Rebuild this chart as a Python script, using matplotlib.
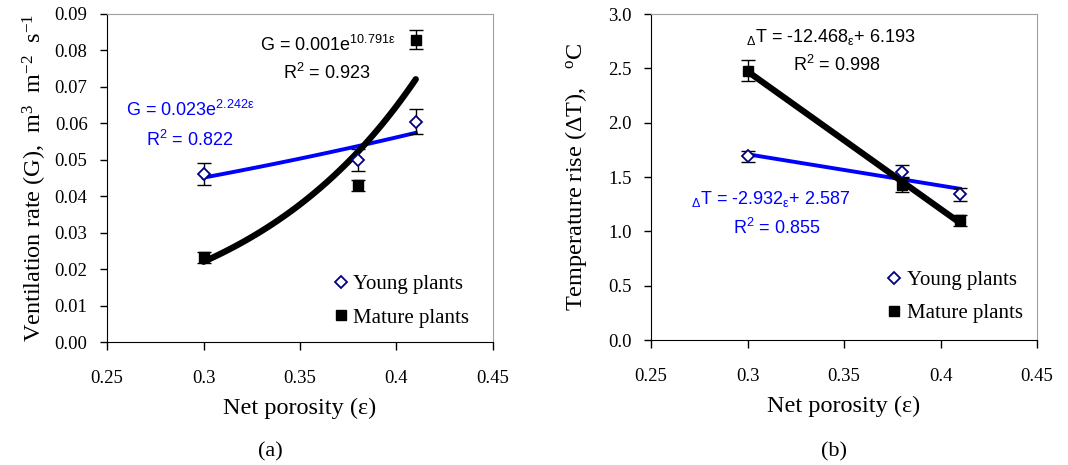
import numpy as np
import matplotlib
matplotlib.use('Agg')
import matplotlib.pyplot as plt

# data
porosity = [0.30, 0.38, 0.41]

g_young = [0.0460, 0.0500, 0.0605]
g_young_err = [0.0030, 0.0030, 0.0035]
g_mature = [0.0232, 0.0430, 0.0830]
g_mature_err = [0.0015, 0.0015, 0.0025]

dt_young = [1.69, 1.55, 1.34]
dt_young_err = [0.05, 0.06, 0.06]
dt_mature = [2.48, 1.43, 1.10]
dt_mature_err = [0.10, 0.07, 0.05]

x_ticks = [0.25, 0.3, 0.35, 0.4, 0.45]
x_ticklabels = ['0.25', '0.3', '0.35', '0.4', '0.45']
g_ticks = np.arange(0, 0.0901, 0.01)
dt_ticks = np.arange(0, 3.01, 0.5)

serif = 'Liberation Serif'
sans = 'Liberation Sans'
blue = '#0000ff'
navy = '#000080'

fig = plt.figure(figsize=(10.68, 4.65), dpi=100)
ax1 = fig.add_axes([0.1002, 0.2645, 0.3614, 0.7054])
ax2 = fig.add_axes([0.6096, 0.2688, 0.3614, 0.7010])


def style_axes(ax):
    ax.spines['top'].set_color('#a0a0a0')
    ax.spines['right'].set_color('#a0a0a0')
    ax.tick_params(direction='out', length=5, width=1, labelsize=13.5)
    ax.tick_params(axis='x', pad=14, length=6)
    ax.tick_params(axis='y', pad=9)
    ax.tick_params(top=False, right=False)
    for lab in ax.get_xticklabels() + ax.get_yticklabels():
        lab.set_fontfamily(serif)


def draw_points(ax, y_young, e_young, y_mature, e_mature):
    ax.errorbar(porosity, y_young, yerr=e_young, fmt='none', ecolor='black',
                elinewidth=1, capsize=5, capthick=1, zorder=3)
    ax.errorbar(porosity, y_mature, yerr=e_mature, fmt='none', ecolor='black',
                elinewidth=1, capsize=5, capthick=1, zorder=3)
    h1, = ax.plot(porosity, y_young, 'D', ms=6.5, mfc='white', mec=navy, mew=1.3,
                  ls='none', zorder=5, label='Young plants')
    h2, = ax.plot(porosity, y_mature, 's', ms=7, mfc='black', mec='black',
                  ls='none', zorder=4, label='Mature plants')
    return h1, h2


# ---- (a) ventilation rate, exponential trendlines ----
xs = np.linspace(min(porosity), max(porosity), 60)
by, ay = np.polyfit(porosity, np.log(g_young), 1)
bm, am = np.polyfit(porosity, np.log(g_mature), 1)
ax1.plot(xs, np.exp(ay + by * xs), color=blue, lw=2.8, zorder=2)
ax1.plot(xs, np.exp(am + bm * xs), color='black', lw=4.5, zorder=2,
         solid_capstyle='round')
h1, h2 = draw_points(ax1, g_young, g_young_err, g_mature, g_mature_err)

ax1.set_xlim(0.25, 0.45)
ax1.set_ylim(0, 0.09)
ax1.set_xticks(x_ticks)
ax1.set_xticklabels(x_ticklabels)
ax1.set_yticks(g_ticks)
ax1.set_yticklabels(['%.2f' % v for v in g_ticks])
style_axes(ax1)
ax1.set_xlabel('Net porosity (ε)', fontfamily=serif, fontsize=17.5, labelpad=8)
ax1.set_ylabel(r'Ventilation rate (G),  m$\mathregular{^{3}}$  m$\mathregular{^{-2}}$  s$\mathregular{^{-1}}$',
               fontfamily=serif, fontsize=17.5, labelpad=4)
ax1.legend(handles=[h1, h2], loc='lower right', bbox_to_anchor=(0.965, 0.012),
           frameon=False, prop={'family': serif, 'size': 15}, handlelength=0.8,
           handletextpad=0.2, labelspacing=0.68, borderpad=0)

ax1.text(0.396, 0.905, r'G = 0.001e$\mathregular{^{10.791ε}}$', transform=ax1.transAxes,
         fontfamily=sans, fontsize=13, ha='left', va='center')
ax1.text(0.57, 0.82, r'R$\mathregular{^{2}}$ = 0.923', transform=ax1.transAxes,
         fontfamily=sans, fontsize=13, ha='center', va='center')
ax1.text(0.049, 0.707, r'G = 0.023e$\mathregular{^{2.242ε}}$', transform=ax1.transAxes,
         fontfamily=sans, fontsize=13, ha='left', va='center', color=blue)
ax1.text(0.215, 0.616, r'R$\mathregular{^{2}}$ = 0.822', transform=ax1.transAxes,
         fontfamily=sans, fontsize=13, ha='center', va='center', color=blue)

# ---- (b) temperature rise, linear trendlines ----
ky, cy = np.polyfit(porosity, dt_young, 1)
km, cm = np.polyfit(porosity, dt_mature, 1)
xl = np.array([min(porosity), max(porosity)])
ax2.plot(xl, cy + ky * xl, color=blue, lw=2.8, zorder=2)
ax2.plot(xl, cm + km * xl, color='black', lw=4.5, zorder=2)
h1, h2 = draw_points(ax2, dt_young, dt_young_err, dt_mature, dt_mature_err)

ax2.set_xlim(0.25, 0.45)
ax2.set_ylim(0, 3.0)
ax2.set_xticks(x_ticks)
ax2.set_xticklabels(x_ticklabels)
ax2.set_yticks(dt_ticks)
ax2.set_yticklabels(['%.1f' % v for v in dt_ticks])
style_axes(ax2)
ax2.set_xlabel('Net porosity (ε)', fontfamily=serif, fontsize=17.5, labelpad=8)
ax2.set_ylabel(r'Temperature rise (ΔT),   $\mathregular{^{o}}$C',
               fontfamily=serif, fontsize=17.5, labelpad=14)
ax2.legend(handles=[h1, h2], loc='lower right', bbox_to_anchor=(0.99, 0.02),
           frameon=False, prop={'family': serif, 'size': 15}, handlelength=0.8,
           handletextpad=0.2, labelspacing=0.65, borderpad=0)

ax2.text(0.246, 0.929, r'$\mathregular{_{Δ}}$T = -12.468$\mathregular{_{ε}}$+ 6.193',
         transform=ax2.transAxes, fontfamily=sans, fontsize=13, ha='left', va='center')
ax2.text(0.368, 0.844, r'R$\mathregular{^{2}}$ = 0.998', transform=ax2.transAxes,
         fontfamily=sans, fontsize=13, ha='left', va='center')
ax2.text(0.104, 0.433, r'$\mathregular{_{Δ}}$T = -2.932$\mathregular{_{ε}}$+ 2.587',
         transform=ax2.transAxes, fontfamily=sans, fontsize=13, ha='left', va='center',
         color=blue)
ax2.text(0.212, 0.344, r'R$\mathregular{^{2}}$ = 0.855', transform=ax2.transAxes,
         fontfamily=sans, fontsize=13, ha='left', va='center', color=blue)

fig.text(270 / 1068, 1 - 452 / 465, '(a)', fontfamily=serif, fontsize=16,
         ha='center', va='center')
fig.text(834 / 1068, 1 - 452 / 465, '(b)', fontfamily=serif, fontsize=16,
         ha='center', va='center')

fig.savefig('out.png', dpi=100)
